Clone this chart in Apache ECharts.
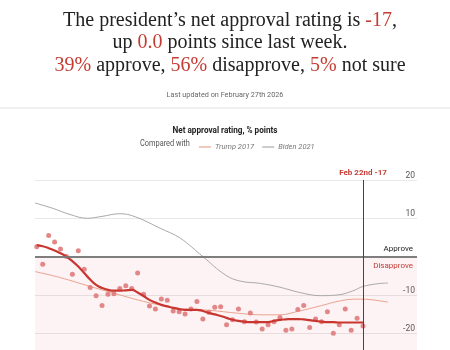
<!DOCTYPE html>
<html>
<head>
<meta charset="utf-8">
<script src="https://cdn.jsdelivr.net/npm/echarts@6/dist/echarts.min.js"></script>
<style>
  html, body { margin: 0; padding: 0; background: #fff; overflow: hidden; }
  /* taller than the window: the lower part of the plot is cut off, as in the original */
  #chart { width: 450px; height: 372px; }
</style>
</head>
<body>
<div id="chart"></div>
<script>
// headline numbers
var netApproval  = -17;
var weekChange   = '0.0';
var approvePct   = 39;
var disapprovePct = 56;
var notSurePct   = 5;
var lastUpdated  = 'February 27th 2026';
var lastPollDay  = 'Feb 22nd';

// weekly polls, x = week number since inauguration
var pollValues = [
    2.6, -2.0, 5.5, 3.8, 2.0, 0, -4.6, 1.5, -3.3, -8.1,
    -10.2, -12.8, -9.8, -9.7, -8.3, -7.6, -8.3, -4.3, -9.8, -12.9,
    -13.7, -11.1, -11.4, -14.2, -14.4, -15.0, -13.7, -11.7, -16.3, -14.5,
    -13.2, -13.1, -17.8, -16.5, -13.7, -17.0, -14.7, -17.1, -18.9, -17.8,
    -17.0, -15.9, -19.2, -18.9, -13.8, -12.8, -18.5, -16.3, -17.0, -14.4,
    -20.0, -17.8, -13.7, -19.2, -16.1, -18.1
];

// smoothed trend, one per week
var trendValues = [
    3.0, 2.7, 2.2, 1.6, 0.9, 0, -1.2, -2.6, -4.3, -6.0,
    -7.4, -8.2, -8.7, -8.9, -8.9, -8.8, -8.7, -9.4, -10.3, -11.3,
    -12.0, -12.6, -13.0, -13.4, -13.7, -13.9, -13.9, -13.9, -14.2, -14.7,
    -15.1, -15.5, -16.0, -16.5, -16.8, -17.0, -17.1, -17.1, -17.1, -17.1,
    -16.8, -16.5, -16.4, -16.3, -16.3, -16.4, -16.6, -16.8, -17.0, -17.1,
    -17.1, -17.2, -17.2, -17.2, -17.2, -17.2
];

// comparison terms [week, net approval]
var trump2017 = [
    [-0.3, -3.9], [4, -5.5], [9, -7.8], [14, -10.0], [18, -11.7], [22, -13.0],
    [25, -13.7], [29, -14.0], [34, -14.8], [38, -15.2], [41, -15.2], [44, -14.3],
    [48, -12.8], [51, -11.6], [54, -11.1], [56, -11.2], [59.2, -11.9]
];
var biden2021 = [
    [-0.3, 14.0], [2.7, 12.6], [5.6, 11.0], [8.5, 10.0], [11, 10.5], [14, 11.2],
    [16.6, 10.4], [20.8, 7.4], [24.2, 4.8], [28, 0], [31.8, -4.8], [34.3, -6.4],
    [37.7, -7.0], [41, -8.0], [44.4, -9.4], [47.8, -10.2], [50.8, -10.0],
    [53.2, -9.0], [55, -7.8], [57.4, -7.1], [59.2, -6.9]
];

var yTicks = [20, 10, -10, -20];

var red   = '#c43c33';
var dark  = '#222';
var serif = "'Liberation Serif', 'DejaVu Serif', serif";
var sans  = "Roboto, 'Liberation Sans', sans-serif";

var pollData = pollValues.map(function (v, i) { return [i, v]; });
var trendData = trendValues.map(function (v, i) { return [i, v]; });
var lastWeek = pollValues.length - 1;

var myChart = echarts.init(document.getElementById('chart'));

var option = {
    backgroundColor: '#fff',
    animation: false,
    title: {
        left: 225,
        top: 4,
        textAlign: 'center',
        text: '{b|The president\u2019s net approval rating is }{r|' + netApproval + '}{b|,}\n' +
              '{b|up }{r|' + weekChange + '}{b| points since last week.}\n' +
              '{r|' + approvePct + '%}{b| approve, }{r|' + disapprovePct + '%}{b| disapprove, }{r|' +
              notSurePct + '%}{b| not sure}',
        textStyle: {
            fontWeight: 'normal',
            rich: {
                b: { fontFamily: serif, fontSize: 20, fontWeight: 'normal', color: dark, lineHeight: 22.5 },
                r: { fontFamily: serif, fontSize: 20, fontWeight: 'normal', color: red, lineHeight: 22.5 }
            }
        }
    },
    graphic: [
        {
            type: 'rect',
            shape: { x: 0, y: 107, width: 450, height: 2 },
            style: { fill: '#efefef' }
        },
        {
            // condensed look: squeeze the text horizontally
            type: 'text',
            x: 225, y: 95, scaleX: 0.97,
            style: {
                text: 'Last updated on ' + lastUpdated, fontFamily: sans, fontSize: 7.5,
                fill: '#666', align: 'center', verticalAlign: 'middle'
            }
        },
        {
            type: 'text',
            x: 225, y: 131, scaleX: 0.86,
            style: {
                text: 'Net approval rating, % points', fontFamily: sans, fontSize: 9.5,
                fontWeight: 'bold', fill: dark, align: 'center', verticalAlign: 'middle'
            }
        },
        {
            type: 'text',
            x: 140, y: 144, scaleX: 0.82,
            style: {
                text: 'Compared with', fontFamily: sans, fontSize: 9,
                fill: '#555', align: 'left', verticalAlign: 'middle'
            }
        }
    ],
    legend: {
        left: 194,
        top: 138,
        itemWidth: 12,
        itemHeight: 1.2,
        itemGap: 8,
        icon: 'rect',
        data: ['Trump 2017', 'Biden 2021'],
        textStyle: { fontFamily: sans, fontSize: 7.5, fontStyle: 'italic', color: '#777', padding: [0, 0, 0, -1] }
    },
    grid: {
        left: 35,
        top: 180,
        width: 382,
        height: 191.5
    },
    xAxis: {
        type: 'value',
        min: -0.3,
        max: 64.1,
        show: false
    },
    yAxis: {
        type: 'value',
        position: 'right',
        min: -30,
        max: 20,
        interval: 10,
        axisLine: { show: false },
        axisTick: { show: false },
        splitLine: { lineStyle: { color: '#e8e8e8', width: 1 } },
        axisLabel: {
            inside: true,
            margin: 2,
            verticalAlign: 'bottom',
            fontFamily: sans,
            fontSize: 8.5,
            color: '#555',
            formatter: function (v) { return yTicks.indexOf(v) >= 0 ? String(v) : ''; }
        }
    },
    series: [
        {
            name: 'Biden 2021',
            type: 'line',
            data: biden2021,
            smooth: 0.4,
            showSymbol: false,
            color: '#aaaaaa',
            lineStyle: { width: 1, color: '#aaaaaa' },
            z: 2,
            markArea: {
                silent: true,
                itemStyle: { color: 'rgba(230, 70, 95, 0.07)' },
                data: [[{ yAxis: 0 }, { yAxis: -30 }]]
            }
        },
        {
            name: 'Trump 2017',
            type: 'line',
            data: trump2017,
            smooth: 0.4,
            showSymbol: false,
            color: '#eaa38f',
            lineStyle: { width: 1, color: '#eaa38f' },
            z: 2
        },
        {
            name: 'polls',
            type: 'scatter',
            data: pollData,
            symbolSize: 5,
            itemStyle: { color: '#df7b7b', opacity: 0.9 },
            z: 3
        },
        {
            name: 'trend',
            type: 'line',
            data: trendData,
            smooth: 0.5,
            showSymbol: false,
            lineStyle: { width: 2.2, color: '#c8362f' },
            z: 4,
            markLine: {
                silent: true,
                symbol: 'none',
                data: [
                    {
                        yAxis: 0,
                        lineStyle: { color: '#777', width: 1.5, type: 'solid' },
                        label: {
                            position: 'insideEndTop', distance: [4, 4],
                            formatter: 'Approve', fontFamily: sans, fontSize: 8, color: dark
                        }
                    },
                    {
                        yAxis: 0,
                        lineStyle: { color: '#777', width: 1.5, type: 'solid' },
                        label: {
                            position: 'insideEndBottom', distance: [4, 5],
                            formatter: 'Disapprove', fontFamily: sans, fontSize: 8, color: red
                        }
                    },
                    {
                        xAxis: lastWeek,
                        lineStyle: { color: '#444', width: 1, type: 'solid' },
                        label: {
                            position: 'end', distance: 3,
                            formatter: lastPollDay + ' ' + netApproval,
                            fontFamily: sans, fontSize: 8, fontWeight: 'bold', color: red
                        }
                    }
                ]
            }
        }
    ]
};

myChart.setOption(option);
</script>
</body>
</html>
